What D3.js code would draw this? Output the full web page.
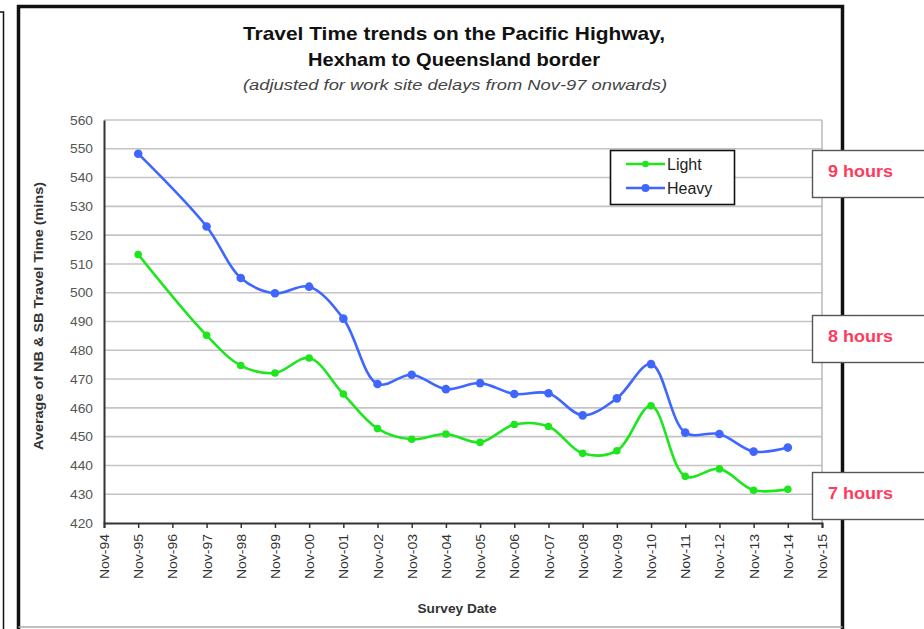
<!DOCTYPE html>
<html><head><meta charset="utf-8">
<script src="https://cdn.jsdelivr.net/npm/d3@7"></script>
<style>body{margin:0;background:#fff}svg{display:block}</style>
</head><body>
<svg id="c" width="924" height="629"></svg>
<script>
const categories = ["Nov-94","Nov-95","Nov-96","Nov-97","Nov-98","Nov-99","Nov-00","Nov-01","Nov-02","Nov-03","Nov-04","Nov-05","Nov-06","Nov-07","Nov-08","Nov-09","Nov-10","Nov-11","Nov-12","Nov-13","Nov-14","Nov-15"];
const lightValues = [null,513.3,null,485.2,474.7,472.1,477.3,464.8,452.8,449.1,450.9,448.0,454.2,453.5,444.2,445.1,460.7,436.2,438.8,431.4,431.7,null];
const heavyValues = [null,548.3,null,523.0,505.1,499.8,502.1,491.0,468.3,471.5,466.5,468.6,464.8,465.1,457.4,463.3,475.2,451.4,450.9,444.8,446.2,null];
const yTicks = [420,430,440,450,460,470,480,490,500,510,520,530,540,550,560];
const seriesNames = ["Light","Heavy"];
const seriesColors = ["#1ee61e","#3f66ff"];
const hourLabels = ["9 hours","8 hours","7 hours"];

const svg = d3.select("#c");
const font = "'Liberation Sans', Arial, sans-serif";

// outer frame
svg.append("path").attr("d","M18.5,629 V6.5 H842.5 V629").attr("fill","none").attr("stroke","#111").attr("stroke-width",3.5);
svg.append("line").attr("x1",18.5).attr("x2",842.5).attr("y1",627).attr("y2",627).attr("stroke","#aaa").attr("stroke-width",1.5);
svg.append("path").attr("d","M0,12 H3.5 V629").attr("fill","none").attr("stroke","#111").attr("stroke-width",1.5);

const x = d3.scaleLinear().domain([0, categories.length-1]).range([104, 822]);
const y = d3.scaleLinear().domain([420,560]).range([523,120]);

// gridlines
svg.append("g").selectAll("line").data(yTicks.slice(1)).join("line")
  .attr("x1",104).attr("x2",822).attr("y1",d=>y(d)).attr("y2",d=>y(d))
  .attr("stroke","#c4c4c4").attr("stroke-width",1.6);
svg.append("line").attr("x1",822).attr("x2",822).attr("y1",y(560)).attr("y2",y(420)).attr("stroke","#bdbdbd").attr("stroke-width",1.6);

// y axis
const yAxis = d3.axisLeft(y).tickValues(yTicks).tickSize(0).tickPadding(11).tickFormat(d3.format("d"));
const gy = svg.append("g").attr("transform","translate(104,0)").call(yAxis);
gy.select(".domain").attr("stroke","#333").attr("stroke-width",2);
gy.selectAll("text").attr("font-family",font).attr("font-size",13).attr("fill","#555").attr("textLength",23).attr("lengthAdjust","spacingAndGlyphs");

// x axis
const xAxis = d3.axisBottom(x).tickValues(d3.range(categories.length)).tickSize(5).tickPadding(8).tickFormat(i=>categories[i]);
const gx = svg.append("g").attr("transform","translate(0,523)").call(xAxis);
gx.select(".domain").attr("stroke","#333").attr("stroke-width",2);
gx.selectAll(".tick line").attr("stroke","#333").attr("stroke-width",1.5);
gx.selectAll("text").attr("font-family",font).attr("font-size",13).attr("fill","#333")
  .attr("text-anchor","end").attr("transform","rotate(-90)").attr("x",-11).attr("y",0).attr("dy","0.35em")
  .attr("textLength",45).attr("lengthAdjust","spacingAndGlyphs");

// series
const allSeries = [lightValues, heavyValues];
const line = d3.line().x(d=>x(d.i)).y(d=>y(d.v)).curve(d3.curveCatmullRom.alpha(0.5));
allSeries.forEach((vals,k)=>{
  const pts = vals.map((v,i)=>({i,v})).filter(d=>d.v!==null);
  svg.append("path").datum(pts).attr("d",line).attr("fill","none")
    .attr("stroke",seriesColors[k]).attr("stroke-width",2.6);
  svg.append("g").selectAll("circle").data(pts).join("circle")
    .attr("cx",d=>x(d.i)).attr("cy",d=>y(d.v)).attr("r",k===0?3.8:4.3).attr("fill",seriesColors[k]);
});

// legend
const lg = svg.append("g");
lg.append("rect").attr("x",610.5).attr("y",150.5).attr("width",124).attr("height",54).attr("fill","#fff").attr("stroke","#111").attr("stroke-width",1.6);
seriesNames.forEach((n,k)=>{
  const yy = 164 + k*24;
  lg.append("line").attr("x1",626).attr("x2",665).attr("y1",yy).attr("y2",yy).attr("stroke",seriesColors[k]).attr("stroke-width",2.6);
  lg.append("circle").attr("cx",645.5).attr("cy",yy).attr("r",k===0?3.3:4).attr("fill",seriesColors[k]);
  lg.append("text").attr("x",667).attr("y",yy+5.5).attr("font-family",font).attr("font-size",16).attr("fill","#222").text(n);
});

// hour boxes
const boxYs = [150, 315, 472];
hourLabels.forEach((t,k)=>{
  svg.append("rect").attr("x",812.5).attr("y",boxYs[k]+0.5).attr("width",120).attr("height",47).attr("fill","#fff").attr("stroke","#555").attr("stroke-width",1.4);
  svg.append("text").attr("x",828).attr("y",boxYs[k]+27).attr("font-family",font).attr("font-size",17).attr("font-weight","bold").attr("fill","#ff3b5c")
    .attr("textLength",65).attr("lengthAdjust","spacingAndGlyphs").text(t);
});

// titles
svg.append("text").attr("x",454).attr("y",40).attr("text-anchor","middle").attr("font-family",font).attr("font-weight","bold").attr("font-size",19).attr("fill","#111")
  .attr("textLength",422).attr("lengthAdjust","spacingAndGlyphs").text("Travel Time trends on the Pacific Highway,");
svg.append("text").attr("x",454).attr("y",66).attr("text-anchor","middle").attr("font-family",font).attr("font-weight","bold").attr("font-size",19).attr("fill","#111")
  .attr("textLength",292).attr("lengthAdjust","spacingAndGlyphs").text("Hexham to Queensland border");
svg.append("text").attr("x",455).attr("y",90).attr("text-anchor","middle").attr("font-family",font).attr("font-style","italic").attr("font-size",15).attr("fill","#444")
  .attr("textLength",424).attr("lengthAdjust","spacingAndGlyphs").text("(adjusted for work site delays from Nov-97 onwards)");

// axis titles
svg.append("text").attr("transform","translate(43,316) rotate(-90)").attr("text-anchor","middle").attr("font-family",font).attr("font-weight","bold").attr("font-size",12.5).attr("fill","#333")
  .attr("textLength",268).attr("lengthAdjust","spacingAndGlyphs").text("Average of NB & SB Travel Time (mins)");
svg.append("text").attr("x",457).attr("y",613).attr("text-anchor","middle").attr("font-family",font).attr("font-weight","bold").attr("font-size",12.5).attr("fill","#333")
  .attr("textLength",79).attr("lengthAdjust","spacingAndGlyphs").text("Survey Date");
</script>
</body></html>
